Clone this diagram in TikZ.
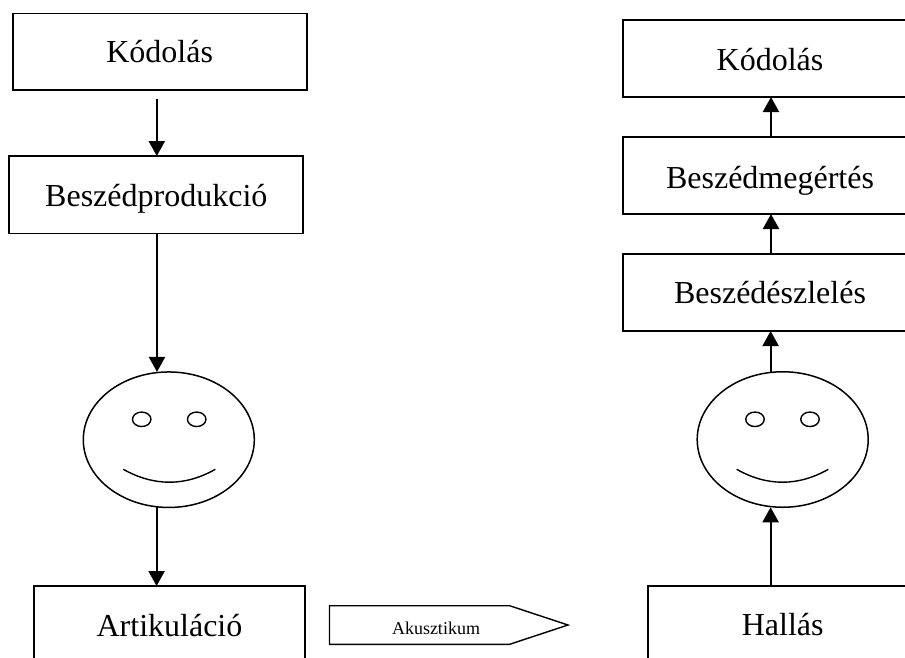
\documentclass[tikz,border=0pt]{standalone}
\usepackage{fontspec}
\setmainfont{Liberation Serif}
\usetikzlibrary{arrows.meta,shapes.geometric}
\tikzset{
 x=1pt,y=-1pt,
 boxa/.style={draw,line width=1.7pt,fill=white,inner sep=0pt,outer sep=0pt,font=\fontsize{32}{36}\selectfont,align=center},
 base/.style={text height=2*#1,text depth=0pt},
 conn/.style={line width=2.2pt,-{Triangle[length=15pt,width=16pt]}},
 face/.style={draw,ellipse,line width=1.5pt,inner sep=0pt,outer sep=0pt,minimum width=171pt,minimum height=135.5pt},
 eye/.style={draw,ellipse,line width=1.4pt,inner sep=0pt,outer sep=0pt,minimum width=18.5pt,minimum height=14.5pt},
 smile/.style={line width=1.4pt},
 sign/.style={draw,line width=1.4pt},
 signtext/.style={inner sep=0pt,anchor=base,font=\fontsize{18}{20}\selectfont}
}
\begin{document}
\begin{tikzpicture}
\clip (0,0) rectangle (905,657);
% left column
\node[boxa,base=11pt,minimum width=294pt,minimum height=76.7pt] (kodl) at (159.7,51.7) {Kódolás};
\node[boxa,base=12pt,minimum width=294pt,minimum height=77.3pt] (prod) at (156.3,194.7) {Beszédprodukció};
\node[face] (fl) at (168.8,439.7) {};
\node[eye] (fl1) at (141.7,419.3) {};
\node[eye] (fl2) at (196.7,419.3) {};
\coordinate (sl1) at (123.3,469.3);
\coordinate (sl2) at (215.3,469.3);
\draw[smile] (sl1) .. controls (154,486.5) and (185,486.5) .. (sl2);
\node[boxa,base=10pt,minimum width=271pt,minimum height=80pt] (art) at (169.5,626) {Artikuláció};
% right column
\node[boxa,base=12.2pt,minimum width=294pt,minimum height=77pt] (kodr) at (770,58.5) {Kódolás};
\node[boxa,base=12.8pt,minimum width=294pt,minimum height=77pt] (meg) at (770,175.5) {Beszédmegértés};
\node[boxa,base=10.8pt,minimum width=294pt,minimum height=77pt] (esz) at (770,292.5) {Beszédészlelés};
\node[face] (fr) at (782.7,439.5) {};
\node[eye] (fr1) at (755,419.3) {};
\node[eye] (fr2) at (810,419.3) {};
\coordinate (sr1) at (736.7,469.3);
\coordinate (sr2) at (828.3,469.3);
\draw[smile] (sr1) .. controls (767,486.5) and (798,486.5) .. (sr2);
\node[boxa,base=9.7pt,minimum width=270pt,minimum height=80pt] (hal) at (782.7,626) {Hallás};
% sign
\coordinate (p1) at (329.5,605.7);
\coordinate (p2) at (509.6,605.7);
\coordinate (p3) at (568,625);
\coordinate (p4) at (509.6,644.3);
\coordinate (p5) at (329.5,644.3);
\draw[sign] (p1) -- (p2) -- (p3) -- (p4) -- (p5) -- cycle;
\node[signtext] (aku) at (436,634.3) {Akusztikum};
% connector x positions
\coordinate (a1) at (156.8,99.3);
\coordinate (a2) at (157,233);
\coordinate (a3) at (156.6,507);
\coordinate (b1) at (770.6,585.7);
\coordinate (b2) at (770.6,371.7);
\coordinate (b3) at (771,254);
\coordinate (b4) at (771,137);
\draw[conn] (a1) -- (a1 |- prod.north);
\draw[conn] (a2 |- prod.south) -- (a2 |- fl.north);
\draw[conn] (a3) -- (a3 |- art.north);
\draw[conn] (b1 |- hal.north) -- (b1 |- fr.south);
\draw[conn] (b2) -- (b2 |- esz.south);
\draw[conn] (b3 |- esz.north) -- (b3 |- meg.south);
\draw[conn] (b4 |- meg.north) -- (b4 |- kodr.south);
\end{tikzpicture}
\end{document}
